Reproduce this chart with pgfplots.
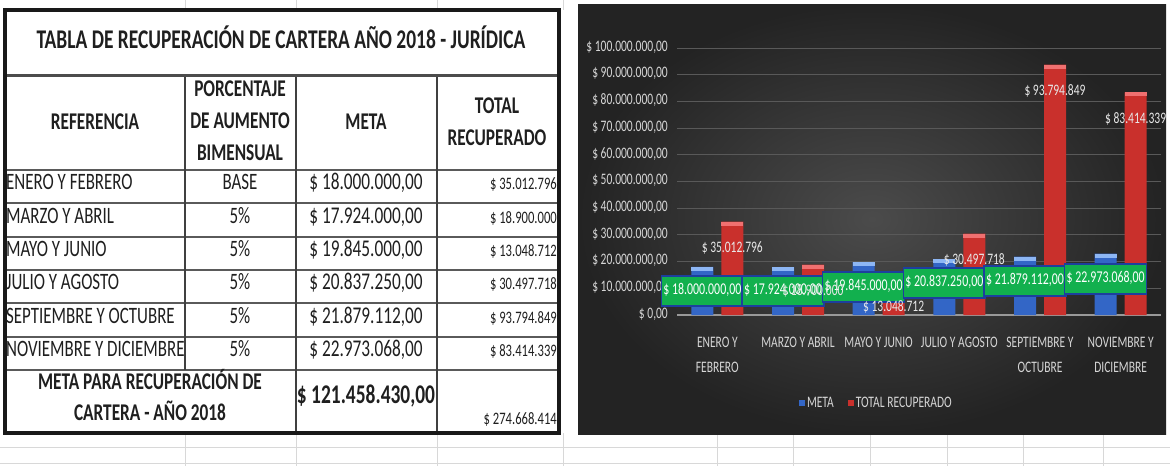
\documentclass[border=0pt]{standalone}
\usepackage{fontspec}
\setmainfont[FakeStretch=0.72]{Carlito}
\usepackage{pgfplots}
\usepackage{pgfplotstable}
\pgfplotsset{compat=1.18}
\definecolor{bgin}{HTML}{4B4B4B}
\definecolor{bgout}{HTML}{232323}
\definecolor{barblue}{HTML}{3366C6}
\definecolor{capblue}{HTML}{8DB6F4}
\definecolor{barred}{HTML}{C9302C}
\definecolor{capred}{HTML}{F07070}
\definecolor{gbox}{HTML}{12B04E}
\definecolor{gborder}{HTML}{1D3F9E}
\definecolor{lbl}{HTML}{D6D6D6}
\definecolor{gridc}{HTML}{595959}
\definecolor{sheet}{HTML}{D8D8D8}
\definecolor{tline}{HTML}{5A5A5A}
\newcommand{\fs}[1]{\fontsize{#1}{#1}\selectfont}

\pgfplotstableread{
x meta total
0 18000000 35012796
1 17924000 18900000
2 19845000 13048712
3 20837250 30497718
4 21879112 93794849
5 22973068 83414339
}\datatable

\begin{document}
\begin{tikzpicture}
\useasboundingbox (0pt,0pt) rectangle (1170pt,-466pt);
\begin{scope}[x=1pt,y=-1pt]
\fill[white] (0,0) rectangle (1170,466);
% spreadsheet grid
\foreach \xx in {185,296,437,563} {\draw[sheet,line width=0.8pt] (\xx,0) -- (\xx,10);}
\foreach \xx in {185,296,437,563,717,793,870,947,1023,1103} {\draw[sheet,line width=0.8pt] (\xx,433) -- (\xx,466);}
\draw[sheet,line width=0.8pt] (0,447) -- (1170,447);
\draw[sheet,line width=0.8pt] (0,463) -- (1170,463);
% chart background
\shade[inner color=bgin, outer color=bgout] (578,4) rectangle (1166,434);
% table lines
\draw[tline,line width=2pt] (5,170) -- (559,170);
\foreach \yy in {203.3,236.7,270,303.3,336.7,370} {\draw[tline,line width=2pt] (5,\yy) -- (559,\yy);}
\draw[black!75,line width=1.6pt] (185,75) -- (185,370);
\draw[black!75,line width=1.6pt] (296,75) -- (296,433);
\draw[black!75,line width=1.6pt] (437,75) -- (437,433);
\draw[black!70,line width=3pt] (5,75) -- (559,75);
\draw[black!90,line width=3.5pt] (5,10) rectangle (559,433);
% table text
\tikzset{tb/.style={inner sep=0pt, text height=0.644em, text depth=0pt, text=black!88}}
\node[tb, font=\bfseries\fs{27}] at (281,45) {TABLA DE RECUPERACIÓN DE CARTERA AÑO 2018 - JURÍDICA};
\node[tb, font=\bfseries\fs{24}] at (95,126) {REFERENCIA};
\node[tb, font=\bfseries\fs{24}] at (240,93) {PORCENTAJE};
\node[tb, font=\bfseries\fs{24}] at (240,125) {DE AUMENTO};
\node[tb, font=\bfseries\fs{24}] at (240,157) {BIMENSUAL};
\node[tb, font=\bfseries\fs{24}] at (366,126) {META};
\node[tb, font=\bfseries\fs{24}] at (497,110) {TOTAL};
\node[tb, font=\bfseries\fs{24}] at (497,142) {RECUPERADO};
\foreach \lab/\pc/\me/\to [count=\i] in {{ENERO Y FEBRERO}/{BASE}/{18.000.000,00}/{35.012.796},
  {MARZO Y ABRIL}/{5\%}/{17.924.000,00}/{18.900.000},
  {MAYO Y JUNIO}/{5\%}/{19.845.000,00}/{13.048.712},
  {JULIO Y AGOSTO}/{5\%}/{20.837.250,00}/{30.497.718},
  {SEPTIEMBRE Y OCTUBRE}/{5\%}/{21.879.112,00}/{93.794.849},
  {NOVIEMBRE Y DICIEMBRE}/{5\%}/{22.973.068,00}/{83.414.339}} {
  \pgfmathsetmacro{\yc}{170+33.333*(\i-0.5)}
  \node[tb, anchor=west, font=\fs{23.5}] at (6,\yc) {\lab};
  \node[tb, font=\fs{23.5}] at (240,\yc) {\pc};
  \node[tb, font=\fs{24}] at (366,\yc) {\$ \me};
  \node[tb, anchor=east, font=\fs{17.5}] at (557,\yc) {\$\,\to};
}
\node[tb, font=\bfseries\fs{24}] at (150,386) {META PARA RECUPERACIÓN DE};
\node[tb, font=\bfseries\fs{24}] at (150,417) {CARTERA - AÑO 2018};
\node[tb, font=\bfseries\fs{27}] at (366,400) {\$ 121.458.430,00};
\node[tb, anchor=east, font=\fs{17.5}] at (557,421) {\$\,274.668.414};
\end{scope}

\begin{axis}[
  at={(677pt,-315pt)}, anchor=south west,
  width=484pt, height=267pt, scale only axis,
  xmin=-0.5, xmax=5.5, ymin=0, ymax=100000000,
  axis line style={draw=none},
  major tick length=0pt,
  clip=false,
  xtick={0,1,2,3,4,5},
  xticklabels={{ENERO Y\\FEBRERO},{MARZO Y ABRIL},{MAYO Y JUNIO},{JULIO Y AGOSTO},{SEPTIEMBRE Y\\OCTUBRE},{NOVIEMBRE Y\\DICIEMBRE}},
  xticklabel style={align=center, inner sep=0pt, anchor=north, yshift=-22pt, font={\fontsize{16}{25}\selectfont}, text=lbl},
  ytick={0,10000000,20000000,30000000,40000000,50000000,60000000,70000000,80000000,90000000,100000000},
  yticklabels={{\$ 0,00},{\$ 10.000.000,00},{\$ 20.000.000,00},{\$ 30.000.000,00},{\$ 40.000.000,00},{\$ 50.000.000,00},{\$ 60.000.000,00},{\$ 70.000.000,00},{\$ 80.000.000,00},{\$ 90.000.000,00},{\$ 100.000.000,00}},
  yticklabel style={anchor=east, inner sep=0pt, xshift=-9pt, font=\fs{16}, text=lbl, text height=0.644em, text depth=0pt},
  scaled y ticks=false,
  ymajorgrids, grid style={draw=gridc, line width=0.9pt},
  legend style={at={(0.412,-0.33)}, anchor=center, draw=none, fill=none, legend columns=2, font=\fs{16}, text=lbl, inner sep=0pt,
    /tikz/every even column/.append style={column sep=12pt}},
  legend cell align=left,
]
\draw[gray!80, line width=2.5pt] (axis cs:-0.5,0) -- (axis cs:5.5,0);
\addplot[ybar, bar width=22pt, bar shift=-15pt, fill=barblue, draw=none,
  legend image code/.code={\fill[barblue] (0pt,-3pt) rectangle (6pt,3pt);}]
  table[x=x,y=meta]{\datatable};
\addlegendentry{META}
\addplot[ybar, bar width=22pt, bar shift=15pt, fill=barred, draw=none,
  legend image code/.code={\fill[barred] (0pt,-3pt) rectangle (6pt,3pt);}]
  table[x=x,y=total]{\datatable};
\addlegendentry{TOTAL RECUPERADO}
\addplot[forget plot, only marks, mark=-, mark size=11pt,
  mark options={draw=capblue, line width=4pt, xshift=-15pt, yshift=-2pt}]
  table[x=x,y=meta]{\datatable};
\addplot[forget plot, only marks, mark=-, mark size=11pt,
  mark options={draw=capred, line width=4pt, xshift=15pt, yshift=-2pt}]
  table[x=x,y=total]{\datatable};
% green data labels of META
\addplot[forget plot, draw=none, mark=none,
  nodes near coords, point meta=explicit symbolic,
  every node near coord/.style={anchor=center, xshift=-15pt, fill=gbox, draw=gborder, line width=1.5pt,
    text=white, font=\fs{16.5}, minimum width=82pt, minimum height=30pt, inner xsep=1pt, inner ysep=0pt,
    text height=0.644em, text depth=0pt}]
  coordinates {(0,9000000) [{\$ 18.000.000,00}] (1,8962000) [{\$ 17.924.000,00}] (2,10400000) [{\$ 19.845.000,00}]
    (3,12000000) [{\$ 20.837.250,00}] (4,12700000) [{\$ 21.879.112,00}] (5,13400000) [{\$ 22.973.068,00}]};
% labels of TOTAL RECUPERADO
\addplot[forget plot, draw=none, mark=none,
  nodes near coords, point meta=explicit symbolic,
  every node near coord/.style={anchor=center, xshift=15pt, yshift=-28pt, inner sep=0pt,
    text=white!82!gray, font=\fs{16}, text height=0.644em, text depth=0pt}]
  coordinates {(0,35012796) [{\$ 35.012.796}] (1,18900000) [{\$ 18.900.000}] (2,13048712) [{\$ 13.048.712}]
    (3,30497718) [{\$ 30.497.718}] (4,93794849) [{\$ 93.794.849}] (5,83414339) [{\$ 83.414.339}]};
\end{axis}
\end{tikzpicture}
\end{document}
